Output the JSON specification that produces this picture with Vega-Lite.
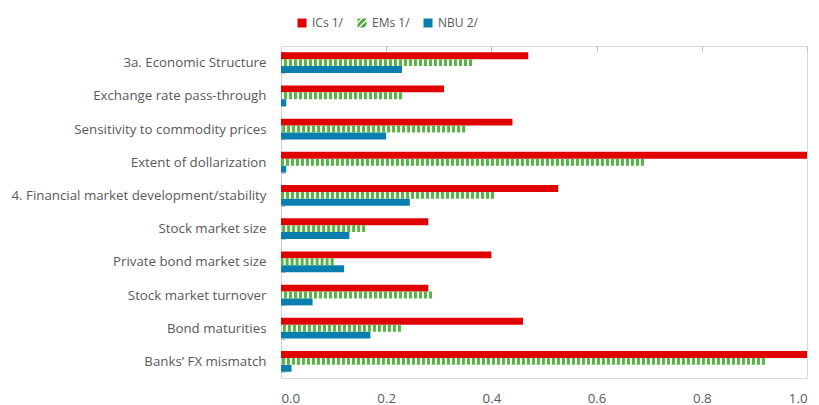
{
  "$schema": "https://vega.github.io/schema/vega-lite/v6.json",
  "width": 526,
  "height": 332,
  "autosize": {"type": "none"},
  "padding": {"left": 281, "top": 46, "right": 12, "bottom": 27},
  "background": "white",
  "config": {
    "font": "Open Sans",
    "view": {"stroke": "#D9D9D9", "strokeWidth": 1},
    "axis": {"labelColor": "#595959", "labelFontSize": 13.3, "labelFont": "Open Sans", "domainColor": "#D0D0D0", "tickColor": "#BFBFBF", "grid": false, "title": null}
  },
  "data": {
    "values": [
      {"category": "3a. Economic Structure", "series": "ICs 1/", "value": 0.47},
      {"category": "3a. Economic Structure", "series": "EMs 1/", "value": 0.363},
      {"category": "3a. Economic Structure", "series": "NBU 2/", "value": 0.23},
      {"category": "Exchange rate pass-through", "series": "ICs 1/", "value": 0.31},
      {"category": "Exchange rate pass-through", "series": "EMs 1/", "value": 0.23},
      {"category": "Exchange rate pass-through", "series": "NBU 2/", "value": 0.01},
      {"category": "Sensitivity to commodity prices", "series": "ICs 1/", "value": 0.44},
      {"category": "Sensitivity to commodity prices", "series": "EMs 1/", "value": 0.35},
      {"category": "Sensitivity to commodity prices", "series": "NBU 2/", "value": 0.2},
      {"category": "Extent of dollarization", "series": "ICs 1/", "value": 1.0},
      {"category": "Extent of dollarization", "series": "EMs 1/", "value": 0.69},
      {"category": "Extent of dollarization", "series": "NBU 2/", "value": 0.01},
      {"category": "4. Financial market development/stability", "series": "ICs 1/", "value": 0.527},
      {"category": "4. Financial market development/stability", "series": "EMs 1/", "value": 0.405},
      {"category": "4. Financial market development/stability", "series": "NBU 2/", "value": 0.245},
      {"category": "Stock market size", "series": "ICs 1/", "value": 0.28},
      {"category": "Stock market size", "series": "EMs 1/", "value": 0.16},
      {"category": "Stock market size", "series": "NBU 2/", "value": 0.13},
      {"category": "Private bond market size", "series": "ICs 1/", "value": 0.4},
      {"category": "Private bond market size", "series": "EMs 1/", "value": 0.1},
      {"category": "Private bond market size", "series": "NBU 2/", "value": 0.12},
      {"category": "Stock market turnover", "series": "ICs 1/", "value": 0.28},
      {"category": "Stock market turnover", "series": "EMs 1/", "value": 0.287},
      {"category": "Stock market turnover", "series": "NBU 2/", "value": 0.06},
      {"category": "Bond maturities", "series": "ICs 1/", "value": 0.46},
      {"category": "Bond maturities", "series": "EMs 1/", "value": 0.228},
      {"category": "Bond maturities", "series": "NBU 2/", "value": 0.17},
      {"category": "Banks’ FX mismatch", "series": "ICs 1/", "value": 1.0},
      {"category": "Banks’ FX mismatch", "series": "EMs 1/", "value": 0.92},
      {"category": "Banks’ FX mismatch", "series": "NBU 2/", "value": 0.02}
    ]
  },
  "resolve": {"axis": {"x": "independent"}},
  "layer": [
    {
      "transform": [{"filter": "datum.series !== 'EMs 1/'"}],
      "mark": {"type": "bar"},
      "encoding": {
        "y": {"field": "category", "type": "nominal", "sort": null,
          "scale": {"paddingInner": 0.375, "paddingOuter": 0.1875},
          "axis": {"labelPadding": 19, "tickSize": -4, "tickBand": "extent", "labelLimit": 400}},
        "yOffset": {"field": "series", "type": "nominal", "scale": {"domain": ["ICs 1/", "EMs 1/", "NBU 2/"], "paddingInner": 0, "paddingOuter": 0}},
        "x": {"field": "value", "type": "quantitative",
          "scale": {"domain": [0, 1], "nice": false},
          "axis": {"orient": "bottom", "values": [0, 0.2, 0.4, 0.6, 0.8, 1.0], "format": ".1f", "ticks": false, "domain": false, "labelPadding": 13}},
        "color": {"field": "series", "type": "nominal",
          "scale": {"domain": ["ICs 1/", "EMs 1/", "NBU 2/"], "range": ["#E00000",
            {"expr": "{gradient: 'linear', x1: 0, y1: 0, x2: 1, y2: 1, stops: [{offset: 0, color: '#4FB03E'}, {offset: 0.2, color: '#4FB03E'}, {offset: 0.2, color: '#ffffff'}, {offset: 0.33, color: '#ffffff'}, {offset: 0.33, color: '#4FB03E'}, {offset: 0.53, color: '#4FB03E'}, {offset: 0.53, color: '#ffffff'}, {offset: 0.66, color: '#ffffff'}, {offset: 0.66, color: '#4FB03E'}, {offset: 0.86, color: '#4FB03E'}, {offset: 0.86, color: '#ffffff'}, {offset: 1, color: '#ffffff'}]}"},
            "#0A7FAF"]},
          "legend": {
            "orient": "none", "legendX": 15, "legendY": -29, "direction": "horizontal", "title": null,
            "symbolType": "square", "symbolSize": 81, "symbolStrokeWidth": 0, "labelFontSize": 12, "labelColor": "#595959", "labelFont": "Open Sans",
            "columnPadding": 12, "labelOffset": 4
          }}
      }
    },
    {
      "transform": [{"filter": "datum.series === 'EMs 1/'"}],
      "mark": {"type": "rule", "color": "#55B443", "strokeWidth": 6.9, "strokeDash": [3, 2], "strokeCap": "butt"},
      "encoding": {
        "y": {"field": "category", "type": "nominal", "sort": null},
        "yOffset": {"field": "series", "type": "nominal"},
        "x": {"field": "value", "type": "quantitative",
          "axis": {"orient": "top", "values": [0.2, 0.4, 0.6, 0.8, 1.0], "labels": false, "domain": false, "tickSize": -5}},
        "x2": {"datum": 0}
      }
    }
  ]
}
